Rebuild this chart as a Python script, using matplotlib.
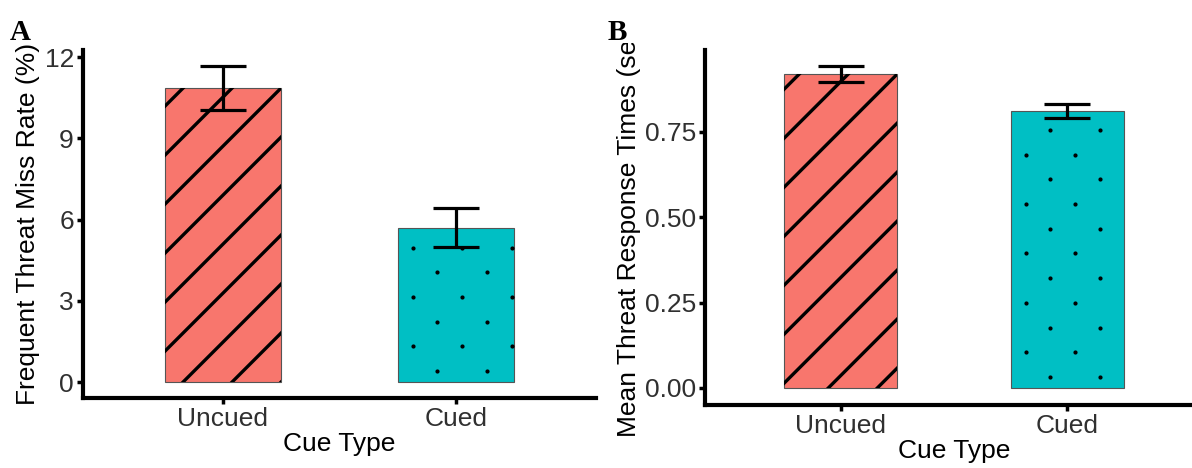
import matplotlib
matplotlib.use("Agg")
import matplotlib.pyplot as plt
import numpy as np
from matplotlib.lines import Line2D
from matplotlib.transforms import IdentityTransform, Bbox

categories = ["Uncued", "Cued"]
miss_rate = [10.86, 5.70]
miss_se = [0.80, 0.72]
resp_time = [0.920, 0.811]
resp_se = [0.023, 0.021]

colors = ["#F8766D", "#00BFC4"]

plt.rcParams["font.family"] = ["Liberation Sans", "DejaVu Sans"]
FS = 19


def stripes(ax, bar, spacing=49, lw=2.4):
    x0, y0, x1, y1 = bar.get_window_extent().extents
    c0 = y1 - x1
    cs = c0 + spacing * np.arange(-20, 20)
    for c in cs:
        if c < y0 - x1 - spacing or c > y1 - x0 + spacing:
            continue
        xs = np.array([x0 - 5, x1 + 5])
        ln = Line2D(xs, xs + c, color="black", lw=lw, transform=IdentityTransform(), zorder=1.5)
        ax.add_artist(ln)
        ln.set_clip_path(bar)


def dots(ax, bar, s=24.7, size=2.0):
    x0, y0, x1, y1 = bar.get_window_extent().extents
    px, py = [], []
    j = 0
    while y0 + 11 + j * s < y1:
        y = y0 + 11 + j * s
        x = x0 + 15 + ((j + 1) % 2) * s
        while x < x1:
            px.append(x)
            py.append(y)
            x += 2 * s
        j += 1
    ln = Line2D(px, py, ls="none", marker="o", ms=size, color="black", mec="black",
                transform=IdentityTransform(), zorder=1.5)
    ax.add_artist(ln)
    ln.set_clip_path(bar)


def style(ax):
    for side in ["top", "right"]:
        ax.spines[side].set_visible(False)
    for side in ["left", "bottom"]:
        ax.spines[side].set_linewidth(3)
        ax.spines[side].set_capstyle("projecting")
    ax.tick_params(axis="both", width=2.5, length=4.5, labelsize=FS, labelcolor="#303030", pad=2)
    ax.set_xlim(0.4, 2.6)


fig = plt.figure(figsize=(11.92, 4.68), dpi=100)

# Panel A
axA = fig.add_axes([83 / 1192, 70 / 468, 513 / 1192, 348 / 468])
style(axA)
xpos = np.arange(1, len(categories) + 1)
barsA = axA.bar(xpos, miss_rate, width=0.5, color=colors, edgecolor="#555555", linewidth=0.8, zorder=1)
axA.errorbar(xpos, miss_rate, yerr=miss_se, fmt="none", ecolor="black", elinewidth=2.3,
             capsize=16.8, capthick=2.3, zorder=3)
axA.set_ylim(-0.59, 12.26)
axA.set_yticks([0, 3, 6, 9, 12])
axA.set_xticks(xpos)
axA.set_xticklabels(categories)
axA.set_xlabel("Cue Type", fontsize=FS, labelpad=1)
axA.set_ylabel("Frequent Threat Miss Rate (%)", fontsize=FS, labelpad=3)
stripes(axA, barsA[0])
dots(axA, barsA[1])

# Panel B
axB = fig.add_axes([705 / 1192, 63 / 468, 498 / 1192, 355 / 468])
style(axB)
barsB = axB.bar(xpos, resp_time, width=0.5, color=colors, edgecolor="#555555", linewidth=0.8, zorder=1)
axB.errorbar(xpos, resp_time, yerr=resp_se, fmt="none", ecolor="black", elinewidth=2.3,
             capsize=16.3, capthick=2.3, zorder=3)
axB.set_ylim(-0.0498, 0.99)
axB.set_yticks([0, 0.25, 0.5, 0.75])
axB.set_yticklabels(["0.00", "0.25", "0.50", "0.75"])
axB.set_xticks(xpos)
axB.set_xticklabels(categories)
axB.set_xlabel("Cue Type", fontsize=FS, labelpad=1)
ylb = axB.set_ylabel("Mean Threat Response Times (sec)", fontsize=FS, labelpad=3)
ylb.set_clip_box(Bbox.from_extents(596, 0, 1192, 468 - 43))
ylb.set_clip_on(True)
stripes(axB, barsB[0])
dots(axB, barsB[1])

fig.text(10 / 1192, 1 - 40 / 468, "A", fontsize=21, fontweight="bold",
         family=["Liberation Serif", "DejaVu Serif"])
fig.text(608 / 1192, 1 - 40 / 468, "B", fontsize=21, fontweight="bold",
         family=["Liberation Serif", "DejaVu Serif"])

fig.savefig("out.png", dpi=100)
